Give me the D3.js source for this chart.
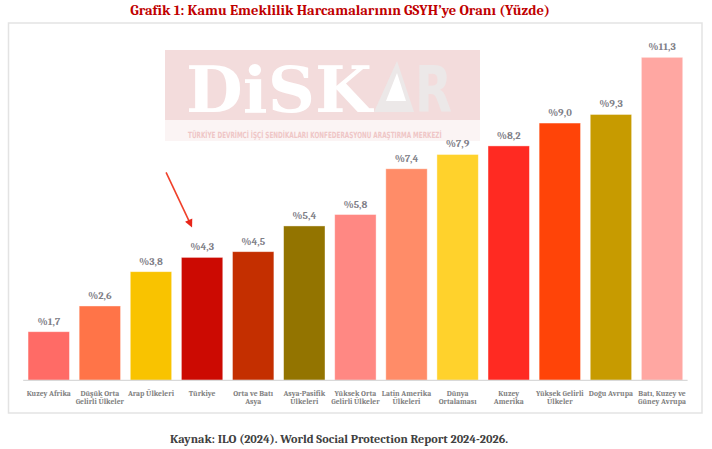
<!DOCTYPE html>
<html><head><meta charset="utf-8">
<script src="https://cdn.jsdelivr.net/npm/d3@7/dist/d3.min.js"></script>
<style>
html,body{margin:0;padding:0;background:#fff;}
svg{display:block;}
</style>
</head><body>
<script>
const categories = ["Kuzey Afrika", "Düşük Orta|Gelirli Ülkeler", "Arap Ülkeleri", "Türkiye", "Orta ve Batı|Asya", "Asya-Pasifik|Ülkeleri", "Yüksek Orta|Gelirli Ülkeler", "Latin Amerika|Ülkeleri", "Dünya|Ortalaması", "Kuzey|Amerika", "Yüksek Gelirli|Ülkeler", "Doğu Avrupa", "Batı, Kuzey ve|Güney Avrupa"];
const values = [1.7, 2.6, 3.8, 4.3, 4.5, 5.4, 5.8, 7.4, 7.9, 8.2, 9.0, 9.3, 11.3];
const colors = ["#FF6B66", "#FF7448", "#F9C300", "#CC0A02", "#C42F00", "#937400", "#FF8883", "#FF8C68", "#FFD22C", "#FF2A22", "#FF4408", "#C79B00", "#FFA7A2"];
const titleText = "Grafik 1: Kamu Emeklilik Harcamalarının GSYH’ye Oranı (Yüzde)";
const sourceText = "Kaynak: ILO (2024). World Social Protection Report 2024-2026.";
const highlight = "Türkiye";

const W = 712, H = 449;
const svg = d3.select("body").append("svg").attr("width", W).attr("height", H);
const serif = "Cambria, 'Liberation Serif', 'DejaVu Serif', serif";

// Title
svg.append("text").attr("x", 340).attr("y", 15).attr("text-anchor", "middle")
  .attr("font-family", serif).attr("font-weight", "bold").attr("font-size", 14.5)
  .attr("fill", "#C00000").text(titleText);

// Chart box
svg.append("rect").attr("x", 8.5).attr("y", 23).attr("width", 693.5).attr("height", 390)
  .attr("fill", "#fff").attr("stroke", "#E3E3E3").attr("stroke-width", 1.5);

// Watermark
const wm = svg.append("g");
wm.append("rect").attr("x", 165).attr("y", 50).attr("width", 315).attr("height", 70).attr("fill", "#F3DCDC");
wm.append("rect").attr("x", 165).attr("y", 120).attr("width", 315).attr("height", 21).attr("fill", "#FBF4F4");
wm.append("text").attr("x", 186).attr("y", 112).attr("font-family", "'DejaVu Serif', serif").attr("font-weight", "bold")
  .attr("font-size", 64).attr("fill", "#fff").attr("textLength", 186).attr("lengthAdjust", "spacingAndGlyphs").text("DiSK");
wm.append("path").attr("d", "M374,112 L397,61 L414,112 Z").attr("fill", "#ECE8E8");
wm.append("path").attr("d", "M386,101 L397,73 L406,101 Z").attr("fill", "#fff");
wm.append("text").attr("x", 415).attr("y", 112).attr("font-family", "'DejaVu Sans', sans-serif").attr("font-weight", "bold")
  .attr("font-size", 64).attr("fill", "#ECE8E8").attr("textLength", 37).attr("lengthAdjust", "spacingAndGlyphs").text("R");
const sub = wm.append("text").attr("x", 0).attr("y", 0).attr("font-family", "'DejaVu Sans Condensed', 'DejaVu Sans', sans-serif").attr("font-weight", "bold")
  .attr("font-size", 8.5).attr("fill", "#EFC6C6")
  .text("TÜRKİYE DEVRİMCİ İŞÇİ SENDİKALARI KONFEDERASYONU ARAŞTIRMA MERKEZİ");
const natural = sub.node().getComputedTextLength();
sub.attr("transform", `translate(188,138) scale(${254 / natural},1)`);

// Scales
const x = d3.scaleBand().domain(categories).range([23.2, 687.6]).paddingInner(0.19).paddingOuter(0.095);
const y = d3.scaleLinear().domain([0, 12]).range([380.3, 37.3]);

// Bars
svg.append("g").selectAll("rect").data(categories).join("rect")
  .attr("x", d => x(d)).attr("width", x.bandwidth())
  .attr("y", (d, i) => y(values[i])).attr("height", (d, i) => y(0) - y(values[i]))
  .attr("fill", (d, i) => colors[i]).attr("stroke", "#fff").attr("stroke-opacity", 0.5).attr("stroke-width", 0.8);

// Axis baseline
const xAxis = d3.axisBottom(x).tickSize(0).tickFormat("");
const ag = svg.append("g").attr("transform", `translate(0,${y(0)})`).call(xAxis);
ag.select(".domain").attr("stroke", "#D9D9D9").attr("stroke-width", 1.2).attr("d", `M${x.range()[0]},0H${x.range()[1]}`);

// Category labels
const lab = svg.append("g").selectAll("text").data(categories).join("text")
  .attr("x", d => x(d) + x.bandwidth() / 2).attr("y", 395.5)
  .attr("text-anchor", "middle").attr("font-family", serif).attr("font-weight", "bold")
  .attr("font-size", 7.6).attr("fill", "#808080");
lab.each(function(d) {
  const parts = d.split("|");
  const t = d3.select(this);
  parts.forEach((p, k) => t.append("tspan").attr("x", x(d) + x.bandwidth() / 2).attr("dy", k === 0 ? 0 : 8.2).text(p));
});

// Value labels
const fmt = v => "%" + d3.format(".1f")(v).replace(".", ",");
svg.append("g").selectAll("text").data(categories).join("text")
  .attr("x", d => x(d) + x.bandwidth() / 2).attr("y", (d, i) => y(values[i]) - 7)
  .attr("text-anchor", "middle").attr("font-family", serif).attr("font-weight", "bold")
  .attr("font-size", 10.5).attr("fill", "#7F8088").text((d, i) => fmt(values[i]));

// Arrow pointing at Türkiye
const hi = categories.indexOf(highlight);
const hx = x(highlight) + x.bandwidth() / 2, hy = y(values[hi]);
const tipX = hx - 10, tipY = hy - 30, startX = hx - 36, startY = hy - 85;
const ang = Math.atan2(tipY - startY, tipX - startX);
const hl = 8, hw = 4;
svg.append("line").attr("x1", startX).attr("y1", startY)
  .attr("x2", tipX - Math.cos(ang) * hl * 0.8).attr("y2", tipY - Math.sin(ang) * hl * 0.8)
  .attr("stroke", "#F0402A").attr("stroke-width", 1.6);
const bx = tipX - Math.cos(ang) * hl, by = tipY - Math.sin(ang) * hl;
svg.append("path").attr("d", `M${tipX},${tipY} L${bx - Math.sin(ang) * hw},${by + Math.cos(ang) * hw} L${bx + Math.sin(ang) * hw},${by - Math.cos(ang) * hw} Z`)
  .attr("fill", "#E8261A");

// Source
svg.append("text").attr("x", 339).attr("y", 443).attr("text-anchor", "middle")
  .attr("font-family", serif).attr("font-weight", "bold").attr("font-size", 12.2)
  .attr("fill", "#404040").text(sourceText);
</script>
</body></html>
